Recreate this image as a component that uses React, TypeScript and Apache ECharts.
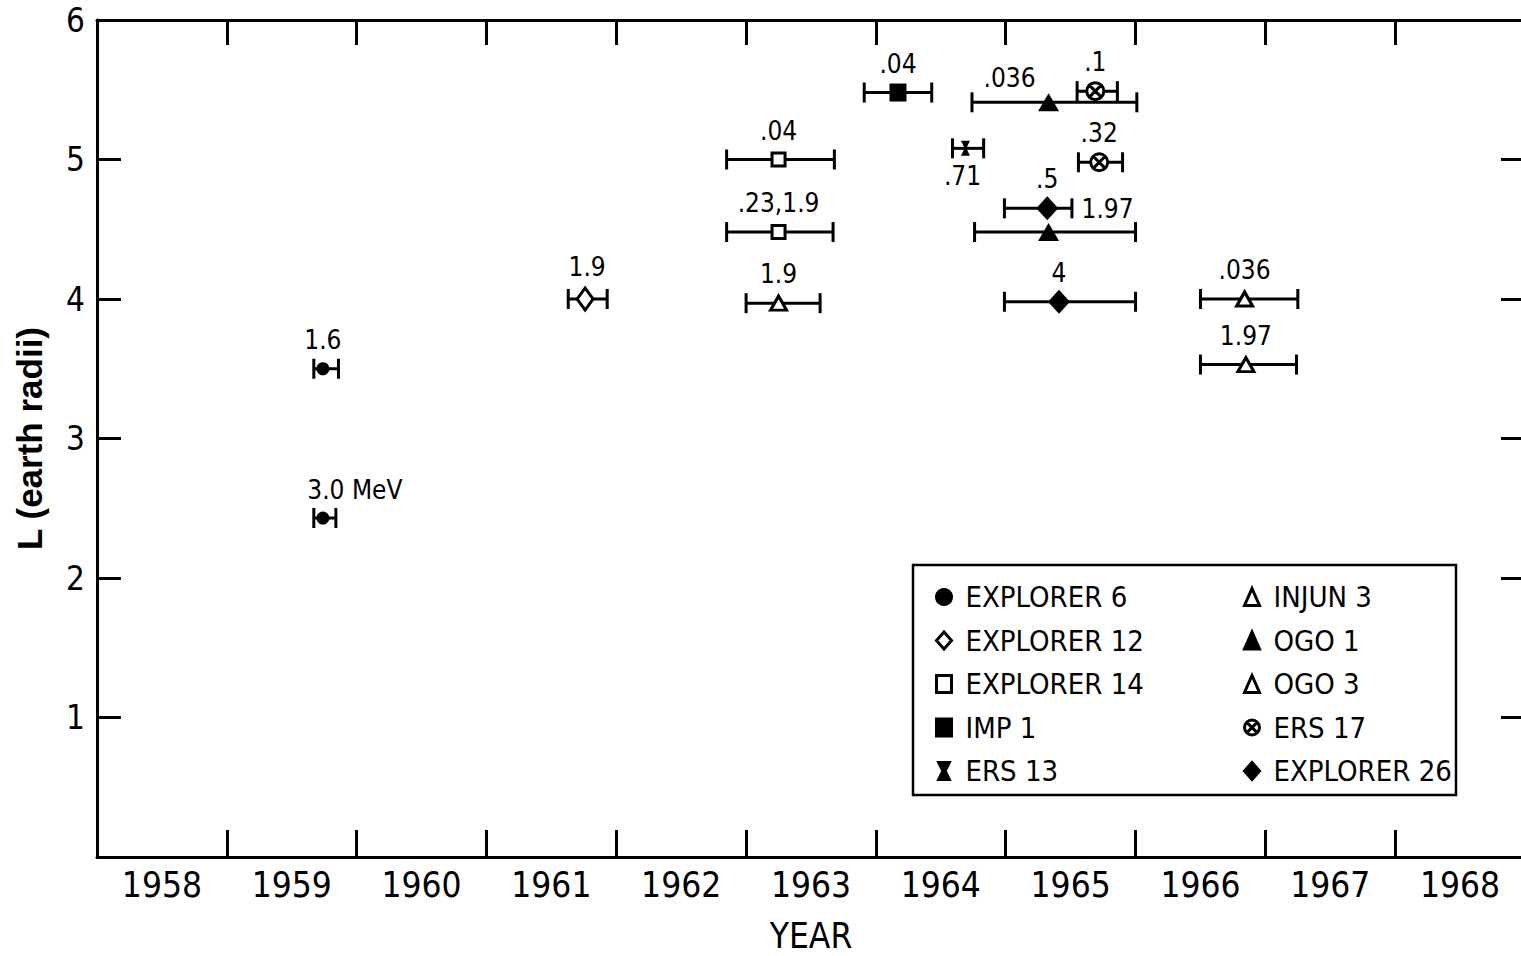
import React, { useEffect, useRef } from "react";
import * as echarts from "echarts";

// Year bands shown on the category axis
const yearLabels = ["1958", "1959", "1960", "1961", "1962", "1963", "1964", "1965", "1966", "1967", "1968"];

// Each entry: [year, L, yearLow, yearHigh, energy label (MeV)]
const explorer6: [number, number, number, number, string][] = [
  [1959.74, 3.5, 1959.67, 1959.86, "1.6"],
  [1959.74, 2.43, 1959.67, 1959.84, "3.0 MeV"],
];
const explorer12: [number, number, number, number, string][] = [
  [1961.76, 4.0, 1961.63, 1961.93, "1.9"],
];
const explorer14: [number, number, number, number, string][] = [
  [1963.25, 5.0, 1962.85, 1963.68, ".04"],
  [1963.25, 4.48, 1962.85, 1963.67, ".23,1.9"],
];
const imp1: [number, number, number, number, string][] = [
  [1964.17, 5.48, 1963.91, 1964.43, ".04"],
];
const ers13: [number, number, number, number, string][] = [
  [1964.69, 5.08, 1964.59, 1964.83, ".71"],
];
const injun3: [number, number, number, number, string][] = [
  [1963.25, 3.97, 1963.0, 1963.57, "1.9"],
];
const ogo1: [number, number, number, number, string][] = [
  [1965.33, 5.41, 1964.74, 1966.01, ".036"],
  [1965.33, 4.48, 1964.76, 1966.0, "1.97"],
];
const ogo3: [number, number, number, number, string][] = [
  [1966.84, 4.0, 1966.5, 1967.25, ".036"],
  [1966.85, 3.53, 1966.5, 1967.24, "1.97"],
];
const ers17: [number, number, number, number, string][] = [
  [1965.69, 5.49, 1965.55, 1965.86, ".1"],
  [1965.72, 4.98, 1965.56, 1965.9, ".32"],
];
const explorer26: [number, number, number, number, string][] = [
  [1965.32, 4.65, 1964.99, 1965.51, ".5"],
  [1965.41, 3.98, 1964.99, 1966.0, "4"],
];

const NARROW = '"DejaVu Sans Condensed", "Liberation Sans Narrow", "Liberation Sans", sans-serif';
const WIDE = '"Liberation Sans", Arial, sans-serif';

const HOURGLASS = "path://M0,0 L10,0 L6,8 L10,16 L0,16 L4,8 Z";
const CIRCLE_X =
  "path://M10,0 A10,10 0 1,1 10,20 A10,10 0 1,1 10,0 Z M3.5,3.5 L16.5,16.5 M16.5,3.5 L3.5,16.5";

type Spec = {
  name: string;
  data: [number, number, number, number, string][];
  symbol: string;
  size: number | number[];
  filled: boolean;
  legendCol: number;
};

const specs: Spec[] = [
  { name: "EXPLORER 6", data: explorer6, symbol: "circle", size: 13, filled: true, legendCol: 0 },
  { name: "EXPLORER 12", data: explorer12, symbol: "diamond", size: [16, 22], filled: false, legendCol: 0 },
  { name: "EXPLORER 14", data: explorer14, symbol: "rect", size: 13, filled: false, legendCol: 0 },
  { name: "IMP 1", data: imp1, symbol: "rect", size: [17, 18], filled: true, legendCol: 0 },
  { name: "ERS 13", data: ers13, symbol: HOURGLASS, size: [9, 15], filled: true, legendCol: 0 },
  { name: "INJUN 3", data: injun3, symbol: "triangle", size: [16, 14], filled: false, legendCol: 1 },
  { name: "OGO 1", data: ogo1, symbol: "triangle", size: [21, 18], filled: true, legendCol: 1 },
  { name: "OGO 3", data: ogo3, symbol: "triangle", size: [16, 14], filled: false, legendCol: 1 },
  { name: "ERS 17", data: ers17, symbol: CIRCLE_X, size: 17, filled: false, legendCol: 1 },
  { name: "EXPLORER 26", data: explorer26, symbol: "diamond", size: [22, 24], filled: true, legendCol: 1 },
];

// label placement tweaks (style only)
const labelOffsets: Record<string, number[]> = {
  "EXPLORER 6-1": [32, -28],
  "ERS 13-0": [-3, 28],
  "OGO 1-0": [-39, -24],
  "OGO 1-1": [59, -23],
  "EXPLORER 12-0": [2, -32],
};

export default function App() {
  const ref = useRef<HTMLDivElement>(null);

  useEffect(() => {
    if (!ref.current) return;
    document.body.style.margin = "0";
    document.body.style.overflow = "hidden";
    const chart = echarts.init(ref.current, undefined, { renderer: "svg" });

    const errData = specs.flatMap((s) => s.data.map((d) => [d[0], d[1], d[2], d[3]]));

    const scatterSeries = specs.map((s) => ({
      type: "scatter",
      name: s.name,
      xAxisIndex: 2,
      yAxisIndex: 0,
      symbol: s.symbol,
      symbolSize: s.size,
      z: 5,
      itemStyle: {
        color: s.filled ? "#000" : "#fff",
        borderColor: "#000",
        borderWidth: s.filled ? 0 : 3,
        opacity: 1,
      },
      label: {
        show: true,
        position: "inside",
        offset: [0, -29],
        formatter: "{b}",
        color: "#000",
        fontFamily: NARROW,
        fontSize: 26,
      },
      data: s.data.map((d, i) => {
        const off = labelOffsets[s.name + "-" + i];
        return {
          name: d[4],
          value: [d[0], d[1]],
          ...(off ? { label: { offset: off } } : {}),
        };
      }),
    }));

    const legendBase = {
      orient: "vertical",
      top: 575,
      itemWidth: 15,
      itemHeight: 17,
      itemGap: 9.5,
      selectedMode: false,
      textStyle: { fontFamily: NARROW, fontSize: 29, color: "#000", lineHeight: 34, padding: [0, 0, 0, 9] },
      itemStyle: { borderWidth: 3 },
    };

    chart.setOption({
      animation: false,
      backgroundColor: "#fff",
      grid: { left: 97, right: 1, top: 20, bottom: 99, outerBoundsMode: "none", containLabel: false },
      legend: [
        { ...legendBase, left: 930, data: specs.filter((s) => s.legendCol === 0).map((s) => s.name) },
        { ...legendBase, left: 1238, data: specs.filter((s) => s.legendCol === 1).map((s) => s.name) },
      ],
      graphic: [
        {
          type: "rect",
          shape: { x: 913, y: 565, width: 543, height: 230 },
          style: { fill: "none", stroke: "#000", lineWidth: 2.5 },
          z: 10,
        },
      ],
      xAxis: [
        {
          type: "category",
          position: "bottom",
          data: yearLabels,
          boundaryGap: true,
          name: "YEAR",
          nameLocation: "middle",
          nameGap: 61,
          nameTextStyle: { fontFamily: NARROW, fontSize: 35, color: "#000" },
          axisLine: { show: true, onZero: false, lineStyle: { color: "#000", width: 3 } },
          axisTick: { show: true, inside: true, length: 27, interval: 0, lineStyle: { color: "#000", width: 3 } },
          axisLabel: { show: true, margin: 10, interval: 0, fontFamily: NARROW, fontSize: 35, color: "#000" },
          splitLine: { show: false },
        },
        {
          type: "category",
          position: "top",
          data: yearLabels,
          boundaryGap: true,
          axisLine: { show: true, onZero: false, lineStyle: { color: "#000", width: 3 } },
          axisTick: { show: true, inside: true, length: 25, interval: 0, lineStyle: { color: "#000", width: 3 } },
          axisLabel: { show: false },
          splitLine: { show: false },
        },
        {
          type: "value",
          min: 1958,
          max: 1969,
          show: false,
          axisLine: { onZero: false },
          splitLine: { show: false },
        },
      ],
      yAxis: [
        {
          type: "value",
          position: "left",
          min: 0,
          max: 6,
          interval: 1,
          name: "L (earth radii)",
          nameLocation: "middle",
          nameRotate: 90,
          nameGap: 50,
          nameTextStyle: { fontFamily: WIDE, fontWeight: "bold", fontSize: 35, color: "#000" },
          axisLine: { show: true, onZero: false, lineStyle: { color: "#000", width: 3 } },
          axisTick: { show: true, inside: true, length: 24, lineStyle: { color: "#000", width: 3 } },
          axisLabel: {
            margin: 12,
            fontFamily: NARROW,
            fontSize: 33,
            color: "#000",
            formatter: (v: number) => (v === 0 ? "" : String(v)),
          },
          splitLine: { show: false },
        },
        {
          type: "value",
          position: "right",
          min: 0,
          max: 6,
          interval: 1,
          axisLine: { show: true, onZero: false, lineStyle: { color: "#000", width: 3 } },
          axisTick: { show: true, inside: true, length: 24, lineStyle: { color: "#000", width: 3 } },
          axisLabel: { show: false },
          splitLine: { show: false },
        },
      ],
      series: [
        {
          type: "custom",
          name: "error bars",
          xAxisIndex: 2,
          yAxisIndex: 0,
          z: 2,
          data: errData,
          renderItem: (_params: any, api: any) => {
            const y = api.value(1);
            const p1 = api.coord([api.value(2), y]);
            const p2 = api.coord([api.value(3), y]);
            const cap = 10;
            const style = { stroke: "#000", lineWidth: 3 };
            return {
              type: "group",
              children: [
                { type: "line", shape: { x1: p1[0], y1: p1[1], x2: p2[0], y2: p2[1] }, style },
                { type: "line", shape: { x1: p1[0], y1: p1[1] - cap, x2: p1[0], y2: p1[1] + cap }, style },
                { type: "line", shape: { x1: p2[0], y1: p2[1] - cap, x2: p2[0], y2: p2[1] + cap }, style },
              ],
            };
          },
        },
        ...scatterSeries,
      ],
    });

    return () => chart.dispose();
  }, []);

  return (
    <div
      ref={ref}
      style={{ position: "fixed", left: 0, top: 0, width: 1526, height: 956, background: "#fff" }}
    />
  );
}
